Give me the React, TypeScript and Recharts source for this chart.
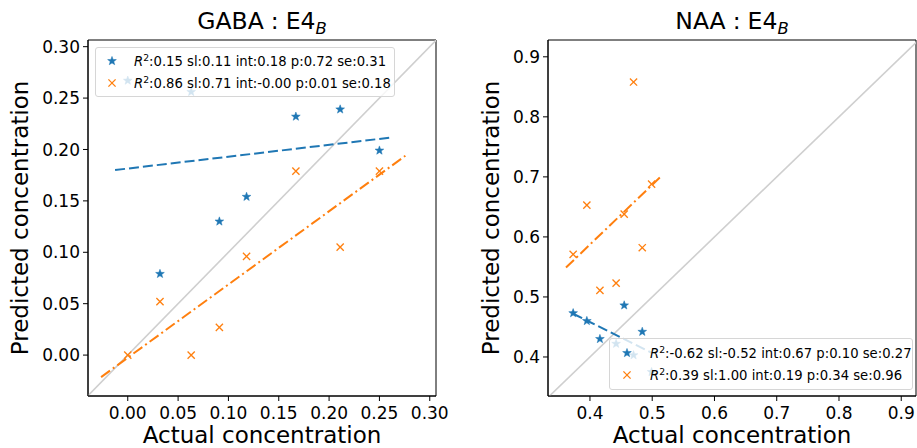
// Two predicted-vs-actual scatter panels (GABA, NAA) with fit lines and identity line
import React from 'react'
import {
  ScatterChart, Scatter, XAxis, YAxis, ReferenceLine, ReferenceArea, Legend,
} from 'recharts'

const BLUE = '#1f77b4'
const ORANGE = '#ff7f0e'

// GABA panel
const gabaActual = [0.0, 0.032, 0.063, 0.091, 0.118, 0.167, 0.211, 0.25]
const gabaPredA = [0.267, 0.079, 0.256, 0.130, 0.154, 0.232, 0.239, 0.199]
const gabaPredB = [0.0, 0.052, 0.0, 0.027, 0.096, 0.179, 0.105, 0.179]
const gabaFitAX = [-0.0126, 0.262]
const gabaFitAY = [0.180, 0.2117]
const gabaFitBX = [-0.0265, 0.2758]
const gabaFitBY = [-0.0214, 0.1939]
const gabaTicks = [0, 0.05, 0.1, 0.15, 0.2, 0.25, 0.3]
const gabaStats = [
  { r2: '0.15', sl: '0.11', int: '0.18', p: '0.72', se: '0.31' },
  { r2: '0.86', sl: '0.71', int: '-0.00', p: '0.01', se: '0.18' },
]

// NAA panel
const naaActual = [0.373, 0.395, 0.416, 0.442, 0.455, 0.47, 0.484, 0.499]
const naaPredA = [0.473, 0.460, 0.430, 0.422, 0.486, 0.403, 0.442, 0.375]
const naaPredB = [0.571, 0.653, 0.511, 0.523, 0.638, 0.858, 0.582, 0.688]
const naaFitAX = [0.373, 0.499]
const naaFitAY = [0.472, 0.407]
const naaFitBX = [0.3615, 0.5122]
const naaFitBY = [0.549, 0.699]
const naaTicks = [0.4, 0.5, 0.6, 0.7, 0.8, 0.9]
const naaStats = [
  { r2: '-0.62', sl: '-0.52', int: '0.67', p: '0.10', se: '0.27' },
  { r2: '0.39', sl: '1.00', int: '0.19', p: '0.34', se: '0.96' },
]

const zip = (xs: number[], ys: number[]) => xs.map((x, i) => ({ x, y: ys[i] }))

function StarShape(props: any) {
  const { cx, cy } = props
  const pts: string[] = []
  for (let i = 0; i < 10; i++) {
    const r = i % 2 === 0 ? 4.6 : 1.9
    const a = -Math.PI / 2 + (i * Math.PI) / 5
    pts.push(`${cx + r * Math.cos(a)},${cy + r * Math.sin(a)}`)
  }
  return <polygon points={pts.join(' ')} fill={BLUE} stroke={BLUE} strokeWidth={0.5} />
}

function XShape(props: any) {
  const { cx, cy } = props
  const d = 3.6
  return (
    <g stroke={ORANGE} strokeWidth={1.3}>
      <line x1={cx - d} y1={cy - d} x2={cx + d} y2={cy + d} />
      <line x1={cx - d} y1={cy + d} x2={cx + d} y2={cy - d} />
    </g>
  )
}

const NoShape = () => <g />

function YLabel({ viewBox, dx }: any) {
  const x = viewBox.x + viewBox.width / 2 + dx
  const y = viewBox.y + viewBox.height / 2
  return (
    <text x={x} y={y} transform={`rotate(-90, ${x}, ${y})`} textAnchor="middle"
      dominantBaseline="central" fontSize={23} fill="#000">
      Predicted concentration
    </text>
  )
}

function LegendBox({ stats, width, height, markerX, padTop }: any) {
  return (
    <div style={{
      boxSizing: 'border-box', width, height, paddingTop: padTop,
      background: 'rgba(255,255,255,0.8)', border: '1px solid #d6d6d6', borderRadius: 3,
      fontSize: 13.2, color: '#000', fontFamily: 'DejaVu Sans',
    }}>
      {stats.map((s: any, i: number) => (
        <div key={i} style={{ display: 'flex', alignItems: 'center', height: 22, whiteSpace: 'nowrap' }}>
          <svg width={markerX * 2 + 5} height={22} style={{ flex: 'none', marginLeft: -1 }}>
            {i === 0 ? <StarShape cx={markerX} cy={11} /> : <XShape cx={markerX} cy={11} />}
          </svg>
          <span>
            <i>R</i>
            <span style={{ fontSize: '0.7em', position: 'relative', top: '-0.5em' }}>2</span>
            :{s.r2} sl:{s.sl} int:{s.int} p:{s.p} se:{s.se}
          </span>
        </div>
      ))}
    </div>
  )
}

interface PanelProps {
  left: number
  width: number
  name: string
  domain: [number, number]
  yDomain: [number, number]
  ticks: number[]
  digits: number
  actual: number[]
  predA: number[]
  predB: number[]
  fitA: { x: number; y: number }[]
  fitB: { x: number; y: number }[]
  stats: any[]
  legend: { left: number; top: number; width: number; height: number; markerX: number; padTop: number }
  yLabelDx: number
  marginRight: number
}

function Panel(p: PanelProps) {
  const plotLeft = 88
  const plotW = p.width - plotLeft - p.marginRight
  return (
    <div style={{ position: 'absolute', left: p.left, top: 0, width: p.width, height: 448 }}>
      <div style={{
        position: 'absolute', left: plotLeft + plotW / 2 - 200, width: 400, top: 10,
        textAlign: 'center', fontSize: 23.5, lineHeight: '23px', color: '#000', whiteSpace: 'nowrap',
      }}>
        {p.name}<span style={{ margin: '0 7px' }}>:</span>E4
        <span style={{ fontSize: '0.7em', fontStyle: 'italic', position: 'relative', top: '0.3em' }}>B</span>
      </div>
      <ScatterChart width={p.width} height={448}
        margin={{ top: 40, right: p.marginRight, bottom: 0, left: 28 }}>
        <XAxis type="number" dataKey="x" domain={p.domain} ticks={p.ticks} interval={0}
          allowDataOverflow tickFormatter={(v: number) => v.toFixed(p.digits)}
          tick={{ fontSize: 17, fill: '#000' }} tickLine={{ stroke: '#000' }}
          axisLine={{ stroke: '#000' }} tickSize={5} tickMargin={6} height={52}
          label={{ value: 'Actual concentration', position: 'insideBottom', offset: 5, fontSize: 23, fill: '#000' }} />
        <YAxis type="number" dataKey="y" domain={p.yDomain} ticks={p.ticks} interval={0}
          allowDataOverflow tickFormatter={(v: number) => v.toFixed(p.digits)}
          tick={{ fontSize: 17, fill: '#000' }} tickLine={{ stroke: '#000' }}
          axisLine={{ stroke: '#000' }} tickSize={5} tickMargin={3} width={60}
          label={<YLabel dx={p.yLabelDx} />} />
        <ReferenceLine segment={[{ x: p.domain[0], y: p.domain[0] }, { x: p.yDomain[1], y: p.yDomain[1] }]}
          stroke="#cfcfcf" strokeWidth={1.6} ifOverflow="hidden" />
        <Scatter data={zip(p.actual, p.predA)} shape={StarShape} isAnimationActive={false} legendType="none" />
        <Scatter data={zip(p.actual, p.predB)} shape={XShape} isAnimationActive={false} legendType="none" />
        <Scatter data={p.fitA} shape={NoShape} isAnimationActive={false} legendType="none"
          line={{ stroke: BLUE, strokeWidth: 2, strokeDasharray: '10 4' }} />
        <Scatter data={p.fitB} shape={NoShape} isAnimationActive={false} legendType="none"
          line={{ stroke: ORANGE, strokeWidth: 2, strokeDasharray: '11 3.5 2 3.5' }} />
        <ReferenceArea x1={p.domain[0]} x2={p.domain[1]} y1={p.yDomain[0]} y2={p.yDomain[1]}
          fill="none" fillOpacity={0} stroke="#000" strokeWidth={1} ifOverflow="visible" />
        <Legend layout="vertical" align="center" verticalAlign="middle"
          width={p.legend.width} height={p.legend.height}
          wrapperStyle={{ left: p.legend.left, top: p.legend.top }}
          content={() => <LegendBox stats={p.stats} width={p.legend.width} height={p.legend.height}
            markerX={p.legend.markerX} padTop={p.legend.padTop} />} />
      </ScatterChart>
    </div>
  )
}

export default function App() {
  return (
    <div style={{
      position: 'absolute', left: 0, top: 0, width: 917, height: 448, background: '#fff',
      fontFamily: 'DejaVu Sans', overflow: 'hidden',
    }}>
      <Panel left={0} width={450} marginRight={14} name="GABA"
        domain={[-0.0395, 0.3062]} yDomain={[-0.0398, 0.3065]} ticks={gabaTicks} digits={2}
        actual={gabaActual} predA={gabaPredA} predB={gabaPredB}
        fitA={zip(gabaFitAX, gabaFitAY)} fitB={zip(gabaFitBX, gabaFitBY)} stats={gabaStats}
        legend={{ left: 95, top: 47, width: 300, height: 50, markerX: 17, padTop: 2 }}
        yLabelDx={-38} />
      <Panel left={460} width={457} marginRight={1} name="NAA"
        domain={[0.3326, 0.9237]} yDomain={[0.335, 0.928]} ticks={naaTicks} digits={1}
        actual={naaActual} predA={naaPredA} predB={naaPredB}
        fitA={zip(naaFitAX, naaFitAY)} fitB={zip(naaFitBX, naaFitBY)} stats={naaStats}
        legend={{ left: 149, top: 338, width: 304, height: 52, markerX: 18, padTop: 3 }}
        yLabelDx={-27} />
    </div>
  )
}
